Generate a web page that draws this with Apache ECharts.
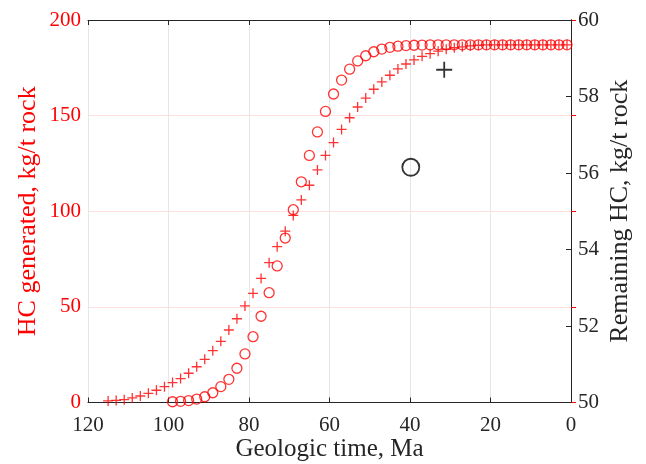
<!DOCTYPE html>
<html>
<head>
<meta charset="utf-8">
<script src="https://cdn.jsdelivr.net/npm/echarts@6/dist/echarts.min.js"></script>
<style>html,body{margin:0;padding:0;background:#fff;}#c{width:646px;height:464px;}</style>
</head>
<body>
<div id="c"></div>
<script>
// Geologic time (Ma) for generated HC (circles)
const circleTime = [99,97,95,93,91,89,87,85,83,81,79,77,75,73,71,69,67,65,63,61,59,57,55,53,51,49,47,45,43,41,39,37,35,33,31,29,27,25,23,21,19,17,15,13,11,9,7,5,3,1];
const circleValue = [0.4,0.6,1.0,1.8,3.0,5.1,8.3,12.1,17.9,25.4,34.4,45.1,57.4,71.4,86.0,100.8,115.4,129.2,141.5,152.2,161.3,168.6,174.3,178.6,181.3,183.4,184.8,185.7,186.3,186.6,186.8,186.9,187,187,187,187,187,187,187,187,187,187,187,187,187,187,187,187,187,187];
// Geologic time (Ma) for plus series
const plusTime = [115,113,111,109,107,105,103,101,99,97,95,93,91,89,87,85,83,81,79,77,75,73,71,69,67,65,63,61,59,57,55,53,51,49,47,45,43,41,39,37,35,33,31,29,27,25,23,21,19,17,15,13,11,9,7,5,3,1];
const plusValue = [0.8,1.1,1.5,2.4,3.4,4.8,6.4,8.3,10.4,12.5,15.3,18.7,22.6,27.1,32.0,37.9,43.8,50.5,57.1,64.9,73.1,81.5,89.6,97.8,105.9,113.6,121.6,129.2,135.9,142.8,148.9,154.5,159.2,163.8,167.6,171.1,174.4,177.0,179.1,181.0,182.4,183.7,184.7,185.5,186.0,186.5,186.8,187,187,187,187,187,187,187,187,187,187,187];
// Remaining HC points (right axis)
const remainingPlus = [[31.5, 58.7]];
const remainingCircle = [[39.8, 56.15]];
const xTicks = [120,100,80,60,40,20,0];

const FONT = '"Liberation Serif","DejaVu Serif",serif';
const PLUS = 'path://M5,0L5,10M0,5L10,5';

const chart = echarts.init(document.getElementById('c'), null, {renderer:'canvas'});
chart.setOption({
  animation:false,
  backgroundColor:'#fff',
  grid:{left:88, right:75, top:20, bottom:61.5, containLabel:false, outerBoundsMode:'none'},
  xAxis:[{
    type:'value', min:0, max:120, interval:20, inverse:true,
    name:'Geologic time, Ma', nameLocation:'middle', nameGap:34, nameMoveOverlap:false,
    nameTextStyle:{fontFamily:FONT, fontSize:25, color:'#262626'},
    axisLine:{lineStyle:{color:'#262626', width:1}},
    axisTick:{inside:true, length:5, lineStyle:{color:'#262626'}},
    axisLabel:{fontFamily:FONT, fontSize:21, color:'#262626', margin:12,
      formatter:v=>xTicks.includes(v)?String(v):''},
    splitLine:{show:true, lineStyle:{color:'#e6e6e6', width:1}}
  },{
    type:'value', min:0, max:120, interval:20, inverse:true, position:'top',
    axisLine:{lineStyle:{color:'#262626', width:1}},
    axisTick:{inside:true, length:5, lineStyle:{color:'#262626'}},
    axisLabel:{show:false}, splitLine:{show:false}
  }],
  yAxis:[{
    type:'value', min:0, max:200, interval:50, position:'left',
    name:'HC generated, kg/t rock', nameLocation:'middle', nameGap:47, nameMoveOverlap:false,
    nameTextStyle:{fontFamily:FONT, fontSize:26, color:'#ff0000'},
    axisLine:{show:true, lineStyle:{color:'#ff0000', width:1}},
    axisTick:{show:true, inside:true, length:5, lineStyle:{color:'#ff0000'}},
    axisLabel:{fontFamily:FONT, fontSize:21, color:'#ff0000', margin:7},
    splitLine:{show:true, lineStyle:{color:'rgba(255,0,0,0.12)', width:1}}
  },{
    type:'value', min:50, max:60, interval:2, position:'right',
    name:'Remaining HC, kg/t rock', nameLocation:'middle', nameGap:36, nameRotate:90, nameMoveOverlap:false,
    nameTextStyle:{fontFamily:FONT, fontSize:26, color:'#262626'},
    axisLine:{show:true, lineStyle:{color:'#262626', width:1}},
    axisTick:{show:true, inside:true, length:5, lineStyle:{color:'#262626'}},
    axisLabel:{fontFamily:FONT, fontSize:21, color:'#262626', margin:7},
    splitLine:{show:false}
  }],
  series:[{
    type:'scatter', xAxisIndex:0, yAxisIndex:0,
    data:plusTime.map((t,i)=>[t, plusValue[i]]),
    symbol:PLUS, symbolSize:10,
    itemStyle:{color:'rgba(0,0,0,0)', borderColor:'#ff0000', borderWidth:1.3}
  },{
    type:'scatter', xAxisIndex:0, yAxisIndex:0,
    data:circleTime.map((t,i)=>[t, circleValue[i]]),
    symbol:'circle', symbolSize:10,
    itemStyle:{color:'rgba(0,0,0,0)', borderColor:'#ff0000', borderWidth:1.3}
  },{
    type:'scatter', xAxisIndex:0, yAxisIndex:1,
    data:remainingPlus,
    symbol:PLUS, symbolSize:16,
    itemStyle:{color:'rgba(0,0,0,0)', borderColor:'#000', borderWidth:1.8}
  },{
    type:'scatter', xAxisIndex:0, yAxisIndex:1,
    data:remainingCircle,
    symbol:'circle', symbolSize:17,
    itemStyle:{color:'rgba(0,0,0,0)', borderColor:'#000', borderWidth:1.8}
  }]
});
</script>
</body>
</html>
